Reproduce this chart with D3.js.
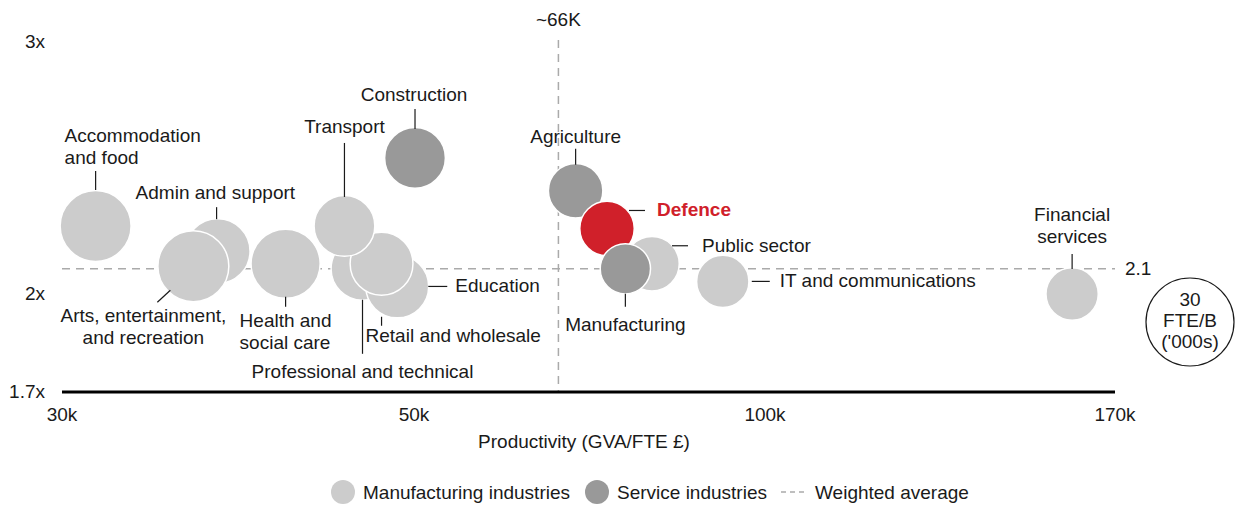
<!DOCTYPE html>
<html>
<head>
<meta charset="utf-8">
<script src="https://cdn.jsdelivr.net/npm/d3@7"></script>
<style>
  body { margin: 0; background: #fff; }
  svg text { font-family: "Liberation Sans", Arial, sans-serif; font-size: 19px; fill: #1a1a1a; }
</style>
</head>
<body>
<svg id="chart" width="1260" height="505"></svg>
<script>
// data
const industries = ["Accommodation and food", "Admin and support", "Arts, entertainment, and recreation",
  "Health and social care", "Professional and technical", "Education", "Retail and wholesale", "Transport",
  "Construction", "Agriculture", "Defence", "Public sector", "Manufacturing", "IT and communications",
  "Financial services"];
const productivity = [31.5, 37.6, 36.3, 41.5, 46.4, 48.8, 47.7, 45.2, 50.1, 68.8, 73.2, 80.0, 75.9, 92.0, 159.3]; // GVA/FTE £k
const multiple = [2.27, 2.17, 2.11, 2.12, 2.10, 2.03, 2.12, 2.27, 2.54, 2.41, 2.26, 2.12, 2.10, 2.05, 2.0];
const fte = [19.5, 16.3, 19.5, 18.5, 15.3, 15.3, 15.3, 14.3, 14.3, 11.5, 11.5, 11.5, 9.8, 10.6, 10.6]; // FTE/B ('000s)
const group = ["m", "m", "m", "m", "m", "m", "m", "m", "s", "s", "d", "m", "s", "m", "m"];
const xTicks = [30, 50, 100, 170];
const xTickLabels = ["30k", "50k", "100k", "170k"];
const yTicks = [1.7, 2, 3];
const yTickLabels = ["1.7x", "2x", "3x"];
const avgProductivity = 66.5;
const avgMultiple = 2.1;
const refSize = 30;

const colors = { m: "#cccccc", s: "#999999", d: "#d0202a" };

// label placement relative to bubble centre
const labelLayout = {
  "Accommodation and food": { lines: ["Accommodation", "and food"], anchor: "start", dx: -31, dy: -84, lead: [0, -55, 0, -36] },
  "Admin and support": { lines: ["Admin and support"], anchor: "start", dx: -82, dy: -52, lead: [-1, -44, -1, -32] },
  "Arts, entertainment, and recreation": { lines: ["Arts, entertainment,", "and recreation"], anchor: "middle", dx: -50, dy: 56, lead: [-36, 36, -23, 24] },
  "Health and social care": { lines: ["Health and", "social care"], anchor: "start", dx: -46, dy: 63, lead: [0, 33, 0, 43] },
  "Professional and technical": { lines: ["Professional and technical"], anchor: "middle", dx: 0, dy: 109, lead: [0, 31, 0, 85] },
  "Education": { lines: ["Education"], anchor: "start", dx: 58, dy: 6, lead: [31, 0, 50, 0] },
  "Retail and wholesale": { lines: ["Retail and wholesale"], anchor: "start", dx: -16, dy: 78, lead: [0, 53, 0, 62] },
  "Transport": { lines: ["Transport"], anchor: "middle", dx: 0, dy: -93, lead: [0, -83, 0, -29] },
  "Construction": { lines: ["Construction"], anchor: "middle", dx: -1, dy: -57, lead: [0, -49, 0, -29] },
  "Agriculture": { lines: ["Agriculture"], anchor: "middle", dx: 0, dy: -48, lead: [0, -42, 0, -26] },
  "Defence": { lines: ["Defence"], anchor: "start", dx: 50, dy: -12, lead: [22, -18, 38, -18] },
  "Public sector": { lines: ["Public sector"], anchor: "start", dx: 50, dy: -12, lead: [20, -18, 36, -18] },
  "Manufacturing": { lines: ["Manufacturing"], anchor: "middle", dx: 0, dy: 62, lead: [0, 25, 0, 38] },
  "IT and communications": { lines: ["IT and communications"], anchor: "start", dx: 57, dy: 6, lead: [29, 0, 47, 0] },
  "Financial services": { lines: ["Financial", "services"], anchor: "middle", dx: 0, dy: -73, lead: [0, -40, 0, -25] }
};

const svg = d3.select("#chart");

// piecewise scales: ticks are spaced evenly
const x = d3.scaleLog().domain(xTicks).range([62, 414, 765, 1115]);
const y = d3.scaleLinear().domain(yTicks).range([392, 294, 42]);
const r = d3.scaleSqrt().domain([0, refSize]).range([0, 44]);

// weighted average lines
svg.append("line")
  .attr("x1", x(30)).attr("x2", x(170))
  .attr("y1", y(avgMultiple)).attr("y2", y(avgMultiple))
  .attr("stroke", "#aaa").attr("stroke-width", 1.5).attr("stroke-dasharray", "8,6");
svg.append("line")
  .attr("x1", x(avgProductivity)).attr("x2", x(avgProductivity))
  .attr("y1", 40).attr("y2", y(1.7))
  .attr("stroke", "#aaa").attr("stroke-width", 1.5).attr("stroke-dasharray", "8,6");
svg.append("text")
  .attr("x", x(avgProductivity)).attr("y", 26)
  .attr("text-anchor", "middle").text("~66K");
svg.append("text")
  .attr("x", x(170) + 10).attr("y", y(avgMultiple) + 6)
  .text(avgMultiple);

// x axis
svg.append("line")
  .attr("x1", x(30)).attr("x2", x(170))
  .attr("y1", y(1.7)).attr("y2", y(1.7))
  .attr("stroke", "#000").attr("stroke-width", 3);
svg.selectAll(".xtick").data(xTicks).join("text")
  .attr("class", "xtick")
  .attr("x", d => x(d)).attr("y", 421)
  .attr("text-anchor", "middle")
  .text((d, i) => xTickLabels[i]);
svg.append("text")
  .attr("x", 584).attr("y", 448)
  .attr("text-anchor", "middle")
  .text("Productivity (GVA/FTE £)");

// y labels
svg.selectAll(".ytick").data(yTicks).join("text")
  .attr("class", "ytick")
  .attr("x", 45).attr("y", d => y(d) + 6)
  .attr("text-anchor", "end")
  .text((d, i) => yTickLabels[i]);

// bubbles
const rows = industries.map((name, i) => ({
  name, px: productivity[i], m: multiple[i], size: fte[i], g: group[i]
}));

svg.selectAll(".bubble").data(rows).join("circle")
  .attr("class", "bubble")
  .attr("cx", d => x(d.px)).attr("cy", d => y(d.m))
  .attr("r", d => r(d.size))
  .attr("fill", d => colors[d.g])
  .attr("stroke", "#fff").attr("stroke-width", 1.5);

// labels + leader lines
const lab = svg.selectAll(".lab").data(rows).join("g")
  .attr("class", "lab")
  .attr("transform", d => `translate(${x(d.px)},${y(d.m)})`);

lab.append("line")
  .attr("x1", d => labelLayout[d.name].lead[0]).attr("y1", d => labelLayout[d.name].lead[1])
  .attr("x2", d => labelLayout[d.name].lead[2]).attr("y2", d => labelLayout[d.name].lead[3])
  .attr("stroke", "#1a1a1a").attr("stroke-width", 1.2);

lab.each(function (d) {
  const L = labelLayout[d.name];
  const t = d3.select(this).append("text")
    .attr("text-anchor", L.anchor)
    .style("fill", d.g === "d" ? "#d0202a" : null)
    .style("font-weight", d.g === "d" ? "bold" : null);
  L.lines.forEach((ln, k) => {
    t.append("tspan").attr("x", L.dx).attr("y", L.dy + k * 22).text(ln);
  });
});

// size reference bubble
const ref = svg.append("g").attr("transform", "translate(1190,322)");
ref.append("circle").attr("r", r(refSize)).attr("fill", "#fff").attr("stroke", "#1a1a1a").attr("stroke-width", 1.2);
["30", "FTE/B", "('000s)"].forEach((t, k) => {
  ref.append("text").attr("text-anchor", "middle").attr("y", -16 + k * 21).text(t);
});

// legend
const legend = svg.append("g").attr("transform", "translate(0,492)");
legend.append("circle").attr("cx", 343).attr("r", 12).attr("fill", colors.m);
legend.append("text").attr("x", 363).attr("y", 7).text("Manufacturing industries");
legend.append("circle").attr("cx", 597).attr("r", 12).attr("fill", colors.s);
legend.append("text").attr("x", 617).attr("y", 7).text("Service industries");
legend.append("line").attr("x1", 781).attr("x2", 806)
  .attr("stroke", "#aaa").attr("stroke-width", 1.5).attr("stroke-dasharray", "5,4");
legend.append("text").attr("x", 815).attr("y", 7).text("Weighted average");
</script>
</body>
</html>
